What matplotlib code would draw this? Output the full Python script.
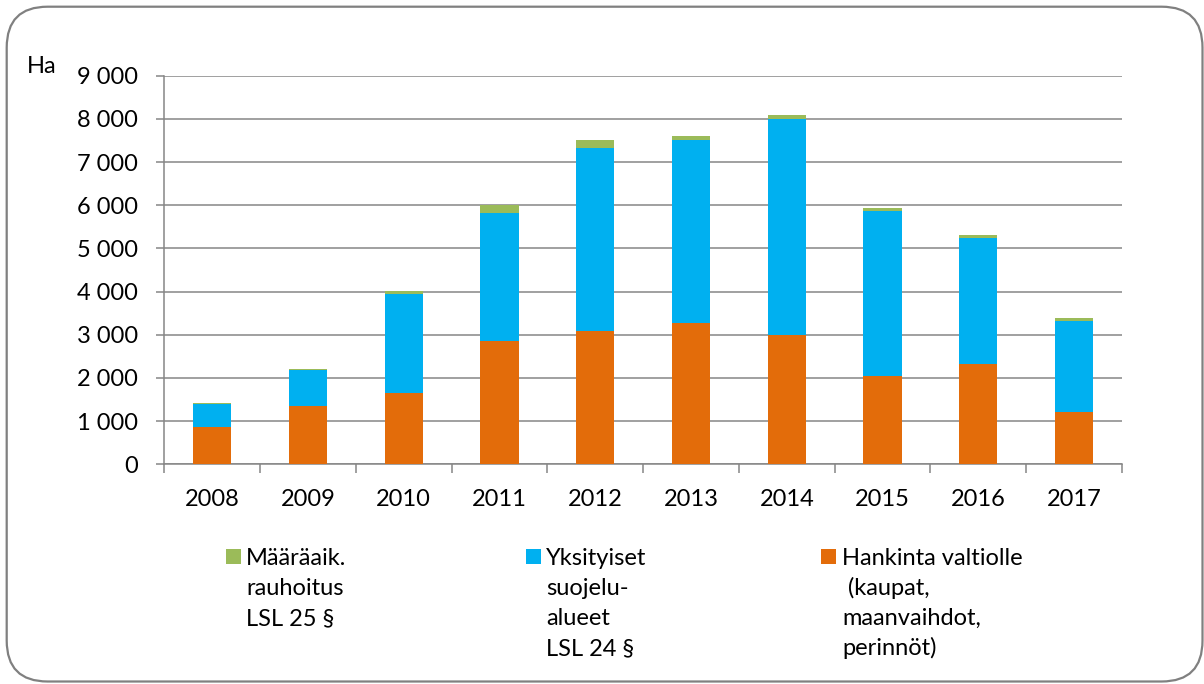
import matplotlib
matplotlib.use("Agg")
import matplotlib.pyplot as plt
from matplotlib.patches import Rectangle, FancyBboxPatch
import numpy as np

# ---- data ----
years = ["2008", "2009", "2010", "2011", "2012", "2013", "2014", "2015", "2016", "2017"]
hankinta = [860, 1360, 1660, 2850, 3080, 3270, 3000, 2050, 2320, 1200]
yksityiset = [530, 820, 2290, 2960, 4250, 4230, 5000, 3820, 2920, 2130]
maaraaik = [40, 20, 70, 190, 170, 100, 100, 70, 70, 60]
y_ticks = [0, 1000, 2000, 3000, 4000, 5000, 6000, 7000, 8000, 9000]
unit_label = "Ha"
legend_lines = [
    ["Määräaik.", "rauhoitus", "LSL 25 §"],
    ["Yksityiset", "suojelu-", "alueet", "LSL 24 §"],
    ["Hankinta valtiolle", " (kaupat,", "maanvaihdot,", "perinnöt)"],
]

C_ORANGE = "#E36C0A"
C_BLUE = "#00B0F0"
C_GREEN = "#9BBB59"
C_GRID = "#868686"
legend_colors = [C_GREEN, C_BLUE, C_ORANGE]

plt.rcParams['font.family'] = ['Lato', 'DejaVu Sans']
FS = 17

W, H = 1204, 684
fig = plt.figure(figsize=(W / 100, H / 100), dpi=100)

def fx(px):
    return px / W

def fy(py):
    return 1 - py / H

# axes placement
ax_l, ax_r, ax_t, ax_b = 164.3, 1122, 75.7, 464.3
ax = fig.add_axes([fx(ax_l), fy(ax_b), fx(ax_r - ax_l), (ax_b - ax_t) / H])

x = np.arange(len(years))
bw = 0.40
ax.bar(x, hankinta, bw, color=C_ORANGE, zorder=3)
bottom2 = np.array(hankinta)
ax.bar(x, yksityiset, bw, bottom=bottom2, color=C_BLUE, zorder=3)
bottom3 = bottom2 + np.array(yksityiset)
ax.bar(x, maaraaik, bw, bottom=bottom3, color=C_GREEN, zorder=3)

ax.set_xlim(-0.5, len(years) - 0.5)
ax.set_ylim(0, 9000)

# y axis
ax.set_yticks(y_ticks)
ax.set_yticklabels([f"{v:,}".replace(",", " ") for v in y_ticks], fontsize=FS)
ax.yaxis.grid(True, color=C_GRID, linewidth=1.1, zorder=0)
ax.set_axisbelow(True)
ax.tick_params(axis='y', length=5.5, width=1.1, color=C_GRID, pad=13.5, labelcolor='black')

# x axis: labels at centers, ticks at boundaries
ax.set_xticks(x)
ax.set_xticklabels(years, fontsize=FS)
ax.tick_params(axis='x', which='major', length=0, pad=18, labelcolor='black')
ax.set_xticks(np.arange(len(years) + 1) - 0.5, minor=True)
ax.tick_params(axis='x', which='minor', length=6.5, width=1.1, color=C_GRID)

for s in ['top', 'right']:
    ax.spines[s].set_visible(False)
for s in ['left', 'bottom']:
    ax.spines[s].set_color(C_GRID)
    ax.spines[s].set_linewidth(1.1)

# unit label
fig.text(fx(26.7), fy(73.3), unit_label, fontsize=FS, va='baseline', ha='left')

# legend (manual)
sq_x = [226, 526, 821]
txt_x = [246, 546, 842]
baselines = [565, 595, 625, 655]
for i, lines in enumerate(legend_lines):
    fig.add_artist(Rectangle((fx(sq_x[i]), fy(564)), fx(15), 15 / H,
                             transform=fig.transFigure, facecolor=legend_colors[i],
                             edgecolor='none'))
    for j, line in enumerate(lines):
        fig.text(fx(txt_x[i]), fy(baselines[j]), line, fontsize=FS,
                 va='baseline', ha='left')

# rounded border
border = FancyBboxPatch((fx(6.7), fy(681.5)), fx(1202.5 - 6.7), (681.5 - 6.7) / H,
                        boxstyle="round,pad=0,rounding_size=0.034",
                        transform=fig.transFigure, facecolor='none',
                        edgecolor='#808080', linewidth=1.6, mutation_aspect=W / H)
fig.add_artist(border)

fig.savefig("out.png", dpi=100)
